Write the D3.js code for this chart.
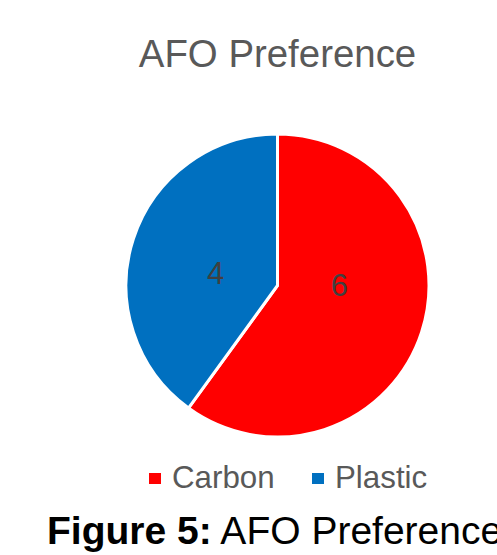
<!DOCTYPE html>
<html><head><meta charset="utf-8">
<script src="https://cdn.jsdelivr.net/npm/d3@7"></script>
<style>body{margin:0;background:#fff;overflow:hidden}</style>
</head><body>
<svg id="c" width="497" height="555"></svg>
<script>
const categories = ["Carbon", "Plastic"];
const values = [6, 4];
const colors = ["#FF0000", "#0070C0"];
const title = "AFO Preference";

const svg = d3.select("#c");
const font = "'Liberation Sans', Arial, sans-serif";
const cx = 277.5, cy = 285.5, R = 151.5;

svg.append("text").attr("x", cx).attr("y", 67).attr("text-anchor", "middle")
  .attr("font-family", font).attr("font-size", 38.4).attr("fill", "#595959").text(title);

const pie = d3.pie().sort(null).value(d => d)(values);
const arc = d3.arc().innerRadius(0).outerRadius(R);
const g = svg.append("g").attr("transform", `translate(${cx},${cy})`);
g.selectAll("path").data(pie).join("path")
  .attr("d", arc).attr("fill", (d, i) => colors[i])
  .attr("stroke", "#fff").attr("stroke-width", 3).attr("stroke-linejoin", "miter");

const labelArc = d3.arc().innerRadius(65).outerRadius(65);
g.selectAll("text.lbl").data(pie).join("text").attr("class", "lbl")
  .attr("x", d => labelArc.centroid(d)[0])
  .attr("y", d => labelArc.centroid(d)[1] * 0.29 - 6.75 + 11)
  .attr("text-anchor", "middle").attr("font-family", font).attr("font-size", 31)
  .attr("fill", "#404040").text(d => d.data);

const legX = [149, 312];
const leg = svg.selectAll("g.leg").data(categories).join("g").attr("class", "leg");
leg.append("rect").attr("x", (d, i) => legX[i]).attr("y", 473).attr("width", 12).attr("height", 11)
  .attr("fill", (d, i) => colors[i]);
leg.append("text").attr("x", (d, i) => legX[i] + 23).attr("y", 488)
  .attr("font-family", font).attr("font-size", 31.3).attr("fill", "#595959").text(d => d);

const cap = svg.append("text").attr("x", 47).attr("y", 544)
  .attr("font-family", font).attr("font-size", 39).attr("fill", "#000");
cap.append("tspan").attr("font-weight", "bold").text("Figure 5:");
cap.append("tspan").text(" AFO Preference");
</script>
</body></html>
